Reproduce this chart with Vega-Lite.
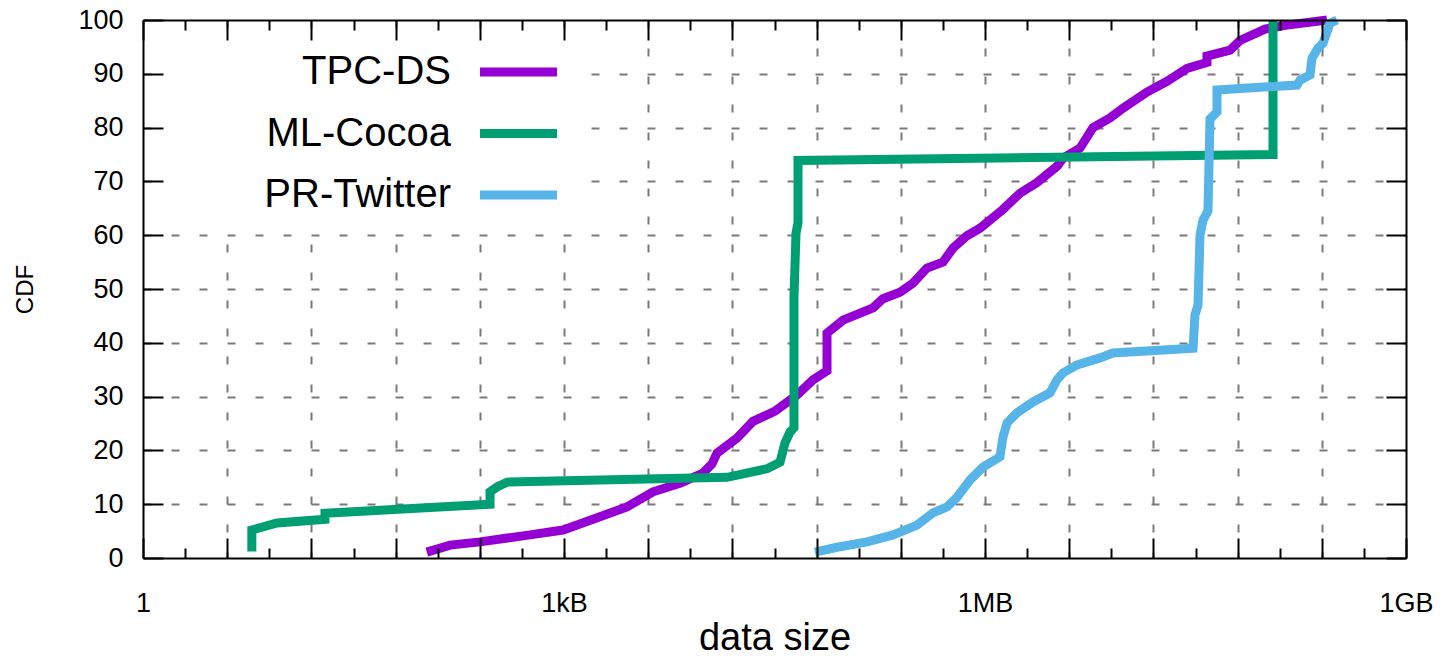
{
  "$schema": "https://vega.github.io/schema/vega-lite/v6.json",
  "width": 1263,
  "height": 538,
  "autosize": {"type": "none"},
  "padding": {"left": 143, "top": 20, "right": 34, "bottom": 102},
  "background": "white",
  "config": {
    "view": {"stroke": null},
    "font": "Liberation Sans",
    "axis": {
      "labelFont": "Liberation Sans",
      "titleFont": "Liberation Sans",
      "labelColor": "black",
      "titleColor": "black",
      "domainColor": "black",
      "tickColor": "black",
      "domainWidth": 2,
      "tickWidth": 2,
      "titleFontWeight": "normal",
      "labelFontSize": 27
    }
  },
  "data": {
    "values": [
      {"series": "TPC-DS", "size": 107, "cdf": 1.1},
      {"series": "TPC-DS", "size": 157, "cdf": 2.4},
      {"series": "TPC-DS", "size": 257, "cdf": 3.0},
      {"series": "TPC-DS", "size": 585, "cdf": 4.3},
      {"series": "TPC-DS", "size": 1007, "cdf": 5.2},
      {"series": "TPC-DS", "size": 1651, "cdf": 7.2},
      {"series": "TPC-DS", "size": 2888, "cdf": 9.5},
      {"series": "TPC-DS", "size": 4432, "cdf": 12.3},
      {"series": "TPC-DS", "size": 6914, "cdf": 13.9},
      {"series": "TPC-DS", "size": 10100, "cdf": 15.8},
      {"series": "TPC-DS", "size": 11710, "cdf": 17.5},
      {"series": "TPC-DS", "size": 12710, "cdf": 19.5},
      {"series": "TPC-DS", "size": 17660, "cdf": 22.3},
      {"series": "TPC-DS", "size": 23000, "cdf": 25.4},
      {"series": "TPC-DS", "size": 33040, "cdf": 27.3},
      {"series": "TPC-DS", "size": 47450, "cdf": 30.3},
      {"series": "TPC-DS", "size": 61740, "cdf": 33.1},
      {"series": "TPC-DS", "size": 77800, "cdf": 34.8},
      {"series": "TPC-DS", "size": 77800, "cdf": 41.8},
      {"series": "TPC-DS", "size": 101200, "cdf": 44.2},
      {"series": "TPC-DS", "size": 165900, "cdf": 46.5},
      {"series": "TPC-DS", "size": 195500, "cdf": 48.2},
      {"series": "TPC-DS", "size": 258700, "cdf": 49.4},
      {"series": "TPC-DS", "size": 320600, "cdf": 51.1},
      {"series": "TPC-DS", "size": 403500, "cdf": 53.9},
      {"series": "TPC-DS", "size": 525000, "cdf": 55.0},
      {"series": "TPC-DS", "size": 619300, "cdf": 57.6},
      {"series": "TPC-DS", "size": 779300, "cdf": 59.9},
      {"series": "TPC-DS", "size": 965700, "cdf": 61.3},
      {"series": "TPC-DS", "size": 1410000, "cdf": 64.8},
      {"series": "TPC-DS", "size": 1865000, "cdf": 67.8},
      {"series": "TPC-DS", "size": 2469000, "cdf": 69.8},
      {"series": "TPC-DS", "size": 3431000, "cdf": 72.8},
      {"series": "TPC-DS", "size": 3788000, "cdf": 74.3},
      {"series": "TPC-DS", "size": 5013000, "cdf": 76.2},
      {"series": "TPC-DS", "size": 6205000, "cdf": 80.0},
      {"series": "TPC-DS", "size": 8212000, "cdf": 81.8},
      {"series": "TPC-DS", "size": 10170000, "cdf": 83.6},
      {"series": "TPC-DS", "size": 15100000, "cdf": 86.6},
      {"series": "TPC-DS", "size": 21000000, "cdf": 88.6},
      {"series": "TPC-DS", "size": 29180000, "cdf": 91.0},
      {"series": "TPC-DS", "size": 40530000, "cdf": 92.1},
      {"series": "TPC-DS", "size": 40530000, "cdf": 93.3},
      {"series": "TPC-DS", "size": 59190000, "cdf": 94.4},
      {"series": "TPC-DS", "size": 69780000, "cdf": 96.2},
      {"series": "TPC-DS", "size": 105400000, "cdf": 98.3},
      {"series": "TPC-DS", "size": 146500000, "cdf": 99.0},
      {"series": "TPC-DS", "size": 292500000, "cdf": 100},
      {"series": "ML-Cocoa", "size": 6, "cdf": 1.2},
      {"series": "ML-Cocoa", "size": 6, "cdf": 5.2},
      {"series": "ML-Cocoa", "size": 9.1, "cdf": 6.5},
      {"series": "ML-Cocoa", "size": 20, "cdf": 7.2},
      {"series": "ML-Cocoa", "size": 20, "cdf": 8.3},
      {"series": "ML-Cocoa", "size": 303, "cdf": 10.0},
      {"series": "ML-Cocoa", "size": 303, "cdf": 12.3},
      {"series": "ML-Cocoa", "size": 340, "cdf": 13.2},
      {"series": "ML-Cocoa", "size": 401, "cdf": 14.1},
      {"series": "ML-Cocoa", "size": 14990, "cdf": 15.0},
      {"series": "ML-Cocoa", "size": 28960, "cdf": 16.6},
      {"series": "ML-Cocoa", "size": 35890, "cdf": 17.8},
      {"series": "ML-Cocoa", "size": 38960, "cdf": 21.4},
      {"series": "ML-Cocoa", "size": 42300, "cdf": 23.4},
      {"series": "ML-Cocoa", "size": 45160, "cdf": 24.2},
      {"series": "ML-Cocoa", "size": 45160, "cdf": 48.5},
      {"series": "ML-Cocoa", "size": 46690, "cdf": 60.4},
      {"series": "ML-Cocoa", "size": 48250, "cdf": 62.3},
      {"series": "ML-Cocoa", "size": 48250, "cdf": 73.9},
      {"series": "ML-Cocoa", "size": 120200000, "cdf": 75.0},
      {"series": "ML-Cocoa", "size": 120200000, "cdf": 100},
      {"series": "PR-Twitter", "size": 63840, "cdf": 1.1},
      {"series": "PR-Twitter", "size": 91740, "cdf": 2.0},
      {"series": "PR-Twitter", "size": 150400, "cdf": 3.0},
      {"series": "PR-Twitter", "size": 230600, "cdf": 4.3},
      {"series": "PR-Twitter", "size": 342300, "cdf": 6.1},
      {"series": "PR-Twitter", "size": 445500, "cdf": 8.4},
      {"series": "PR-Twitter", "size": 561000, "cdf": 9.5},
      {"series": "PR-Twitter", "size": 661800, "cdf": 11.3},
      {"series": "PR-Twitter", "size": 819000, "cdf": 14.5},
      {"series": "PR-Twitter", "size": 1014000, "cdf": 16.9},
      {"series": "PR-Twitter", "size": 1342000, "cdf": 18.8},
      {"series": "PR-Twitter", "size": 1410000, "cdf": 22.5},
      {"series": "PR-Twitter", "size": 1507000, "cdf": 25.1},
      {"series": "PR-Twitter", "size": 1776000, "cdf": 27.0},
      {"series": "PR-Twitter", "size": 2311000, "cdf": 29.0},
      {"series": "PR-Twitter", "size": 3058000, "cdf": 30.7},
      {"series": "PR-Twitter", "size": 3431000, "cdf": 33.1},
      {"series": "PR-Twitter", "size": 3788000, "cdf": 34.4},
      {"series": "PR-Twitter", "size": 4769000, "cdf": 35.9},
      {"series": "PR-Twitter", "size": 6967000, "cdf": 37.2},
      {"series": "PR-Twitter", "size": 8623000, "cdf": 38.1},
      {"series": "PR-Twitter", "size": 32210000, "cdf": 39.0},
      {"series": "PR-Twitter", "size": 33280000, "cdf": 45.2},
      {"series": "PR-Twitter", "size": 34960000, "cdf": 47.0},
      {"series": "PR-Twitter", "size": 36140000, "cdf": 60.0},
      {"series": "PR-Twitter", "size": 37980000, "cdf": 62.8},
      {"series": "PR-Twitter", "size": 41200000, "cdf": 64.5},
      {"series": "PR-Twitter", "size": 42610000, "cdf": 81.6},
      {"series": "PR-Twitter", "size": 47810000, "cdf": 82.9},
      {"series": "PR-Twitter", "size": 47810000, "cdf": 87.0},
      {"series": "PR-Twitter", "size": 178500000, "cdf": 87.9},
      {"series": "PR-Twitter", "size": 187500000, "cdf": 88.8},
      {"series": "PR-Twitter", "size": 221100000, "cdf": 89.8},
      {"series": "PR-Twitter", "size": 228400000, "cdf": 92.9},
      {"series": "PR-Twitter", "size": 252200000, "cdf": 94.8},
      {"series": "PR-Twitter", "size": 273800000, "cdf": 95.7},
      {"series": "PR-Twitter", "size": 292500000, "cdf": 97.8},
      {"series": "PR-Twitter", "size": 307400000, "cdf": 99.4},
      {"series": "PR-Twitter", "size": 344700000, "cdf": 100}
    ]
  },
  "layer": [
    {
      "mark": {"type": "point", "opacity": 0},
      "encoding": {
        "x": {
          "field": "size", "type": "quantitative",
          "scale": {"type": "log", "base": 2, "domain": [1, 1073741824], "nice": false},
          "axis": {
            "orient": "bottom", "title": null,
            "values": [4, 16, 64, 256, 1024, 4096, 16384, 65536, 262144, 1048576, 4194304, 16777216, 67108864, 268435456],
            "grid": true, "gridColor": "#7a7a7a", "gridDash": [8, 20], "gridWidth": 2,
            "ticks": false, "labels": false, "domain": false, "zindex": 0
          }
        },
        "y": {
          "field": "cdf", "type": "quantitative",
          "scale": {"domain": [0, 100], "nice": false, "zero": true},
          "axis": {
            "orient": "left", "title": null,
            "values": [10, 20, 30, 40, 50, 60, 70, 80, 90],
            "grid": true, "gridColor": "#7a7a7a", "gridDash": [8, 20], "gridWidth": 2,
            "ticks": false, "labels": false, "domain": false, "zindex": 0
          }
        }
      }
    },
    {
      "mark": {"type": "line", "strokeWidth": 9, "strokeJoin": "miter", "strokeCap": "butt"},
      "encoding": {
        "x": {
          "field": "size", "type": "quantitative",
          "axis": {
            "orient": "bottom",
            "title": "data size", "titleFontSize": 38, "titlePadding": 3,
            "values": [1, 4, 16, 64, 256, 1024, 4096, 16384, 65536, 262144, 1048576, 4194304, 16777216, 67108864, 268435456, 1073741824],
            "labelExpr": "datum.value == 1 ? '1' : datum.value == 1024 ? '1kB' : datum.value == 1048576 ? '1MB' : datum.value == 1073741824 ? '1GB' : ''",
            "labelFlush": false, "labelOverlap": false, "labelBound": false,
            "labelPadding": 52,
            "tickSize": -20,
            "grid": false, "zindex": 1
          }
        },
        "y": {
          "field": "cdf", "type": "quantitative",
          "axis": {
            "orient": "left",
            "title": "CDF", "titleFontSize": 24, "titlePadding": 40,
            "values": [0, 10, 20, 30, 40, 50, 60, 70, 80, 90, 100],
            "tickSize": -20, "labelPadding": 40,
            "grid": false, "zindex": 1
          }
        },
        "color": {
          "field": "series", "type": "nominal",
          "scale": {"domain": ["TPC-DS", "ML-Cocoa", "PR-Twitter"], "range": ["#9400D3", "#009E73", "#56B4E9"]},
          "legend": {
            "title": null, "orient": "top-left", "offset": 20, "padding": 12,
            "fillColor": "white",
            "symbolType": "M-4,0H4", "symbolSize": 370.6, "symbolStrokeWidth": 9,
            "labelFont": "Liberation Sans", "labelFontSize": 40, "labelColor": "black",
            "labelAlign": "right", "labelOffset": -87.5, "symbolOffset": 323.5,
            "rowPadding": 21.5, "labelLimit": 400
          }
        },
        "order": {"field": "cdf", "type": "quantitative"}
      }
    },
    {
      "mark": {"type": "point", "opacity": 0},
      "encoding": {
        "x": {
          "field": "size", "type": "quantitative",
          "axis": {
            "orient": "top", "title": null,
            "values": [1, 4, 16, 64, 256, 1024, 4096, 16384, 65536, 262144, 1048576, 4194304, 16777216, 67108864, 268435456, 1073741824],
            "labels": false, "grid": false, "tickSize": -20, "zindex": 1
          }
        },
        "y": {
          "field": "cdf", "type": "quantitative",
          "axis": {
            "orient": "right", "title": null,
            "values": [0, 10, 20, 30, 40, 50, 60, 70, 80, 90, 100],
            "labels": false, "grid": false, "tickSize": -20, "zindex": 1
          }
        }
      }
    },
    {
      "mark": {"type": "point", "opacity": 0},
      "encoding": {
        "x": {
          "field": "size", "type": "quantitative",
          "axis": {
            "orient": "bottom", "title": null,
            "values": [2, 8, 32, 128, 512, 2048, 8192, 32768, 131072, 524288, 2097152, 8388608, 33554432, 134217728, 536870912],
            "labels": false, "grid": false, "domain": false, "tickSize": -10, "zindex": 1
          }
        },
        "y": {"field": "cdf", "type": "quantitative", "axis": null}
      }
    },
    {
      "mark": {"type": "point", "opacity": 0},
      "encoding": {
        "x": {
          "field": "size", "type": "quantitative",
          "axis": {
            "orient": "top", "title": null,
            "values": [2, 8, 32, 128, 512, 2048, 8192, 32768, 131072, 524288, 2097152, 8388608, 33554432, 134217728, 536870912],
            "labels": false, "grid": false, "domain": false, "tickSize": -10, "zindex": 1
          }
        },
        "y": {"field": "cdf", "type": "quantitative", "axis": null}
      }
    }
  ],
  "resolve": {"axis": {"x": "independent", "y": "independent"}}
}
